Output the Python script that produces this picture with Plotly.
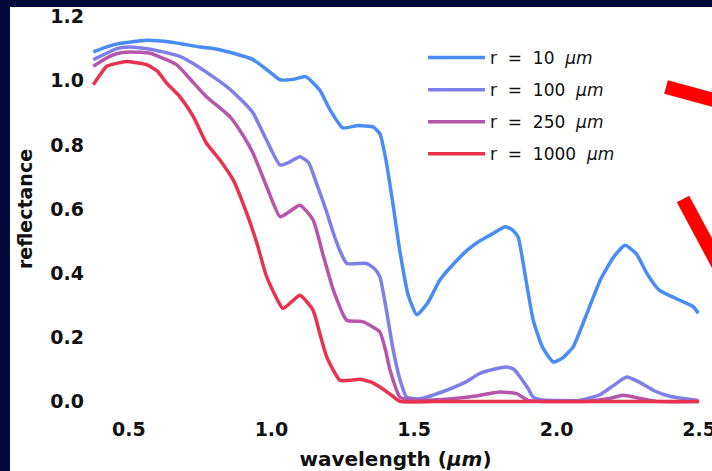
import plotly.graph_objects as go

# ---------------- data ----------------
series_names = ["r\u00a0 =\u00a0 10\u00a0 <i>μm</i>", "r\u00a0 =\u00a0 100\u00a0 <i>μm</i>",
                "r\u00a0 =\u00a0 250\u00a0 <i>μm</i>", "r\u00a0 =\u00a0 1000\u00a0 <i>μm</i>"]
series_colors = ["#4a8cf5", "#7f7fe8", "#b556aa", "#e8324e"]

w_r10 = [0.375, 0.42, 0.46, 0.50, 0.56, 0.65, 0.75, 0.80, 0.87, 0.935, 0.99, 1.03, 1.08, 1.12,
         1.17, 1.205, 1.25, 1.30, 1.356, 1.38, 1.40, 1.427, 1.45, 1.48, 1.51, 1.55, 1.59, 1.64,
         1.685, 1.73, 1.78, 1.819, 1.845, 1.865, 1.883, 1.90, 1.918, 1.95, 1.988, 2.02, 2.058,
         2.10, 2.153, 2.20, 2.24, 2.28, 2.316, 2.36, 2.42, 2.48, 2.497]
refl_r10 = [1.09, 1.105, 1.115, 1.12, 1.126, 1.12, 1.105, 1.10, 1.085, 1.066, 1.03, 1.003, 1.005,
            1.013, 0.97, 0.91, 0.853, 0.86, 0.856, 0.835, 0.76, 0.61, 0.47, 0.33, 0.27, 0.31,
            0.378, 0.43, 0.47, 0.50, 0.525, 0.545, 0.535, 0.513, 0.43, 0.34, 0.253, 0.17, 0.123,
            0.135, 0.17, 0.26, 0.378, 0.45, 0.487, 0.46, 0.40, 0.347, 0.32, 0.295, 0.275]

w_r100 = [0.375, 0.42, 0.457, 0.50, 0.562, 0.62, 0.679, 0.75, 0.843, 0.90, 0.935, 0.98, 1.03,
          1.06, 1.10, 1.13, 1.158, 1.19, 1.217, 1.24, 1.264, 1.30, 1.334, 1.36, 1.38, 1.40, 1.427,
          1.45, 1.474, 1.52, 1.60, 1.68, 1.73, 1.78, 1.825, 1.85, 1.872, 1.90, 1.918, 1.95, 2.00,
          2.08, 2.15, 2.20, 2.246, 2.29, 2.34, 2.40, 2.497]
refl_r100 = [1.066, 1.085, 1.10, 1.105, 1.10, 1.09, 1.076, 1.04, 0.982, 0.935, 0.90, 0.82, 0.737,
             0.745, 0.763, 0.745, 0.68, 0.60, 0.525, 0.47, 0.43, 0.43, 0.43, 0.415, 0.389, 0.30,
             0.16, 0.07, 0.013, 0.008, 0.03, 0.06, 0.087, 0.10, 0.107, 0.10, 0.076, 0.04, 0.013,
             0.004, 0.003, 0.003, 0.02, 0.05, 0.076, 0.06, 0.034, 0.015, 0.003]

w_r250 = [0.375, 0.42, 0.46, 0.503, 0.574, 0.62, 0.667, 0.72, 0.772, 0.854, 0.90, 0.935, 0.983,
          1.03, 1.06, 1.10, 1.146, 1.18, 1.217, 1.264, 1.30, 1.322, 1.35, 1.38, 1.40, 1.416, 1.451,
          1.50, 1.60, 1.685, 1.75, 1.80, 1.86, 1.90, 1.95, 2.10, 2.18, 2.233, 2.29, 2.35, 2.497]
refl_r250 = [1.045, 1.07, 1.085, 1.09, 1.086, 1.07, 1.05, 1.00, 0.95, 0.888, 0.83, 0.775, 0.67,
             0.576, 0.59, 0.612, 0.566, 0.46, 0.347, 0.253, 0.25, 0.248, 0.235, 0.217, 0.16,
             0.097, 0.013, 0.004, 0.006, 0.013, 0.022, 0.029, 0.024, 0.003, 0.0, 0.0, 0.008,
             0.019, 0.01, 0.0, 0.0]

w_r1000 = [0.375, 0.40, 0.422, 0.46, 0.492, 0.562, 0.60, 0.632, 0.679, 0.726, 0.772, 0.819, 0.866,
           0.913, 0.95, 0.983, 1.04, 1.07, 1.10, 1.146, 1.17, 1.194, 1.24, 1.28, 1.31, 1.35, 1.38,
           1.42, 1.451, 1.60, 2.0, 2.5]
refl_r1000 = [0.9875, 1.02, 1.045, 1.055, 1.06, 1.05, 1.03, 0.993, 0.95, 0.888, 0.805, 0.753,
              0.69, 0.587, 0.49, 0.389, 0.29, 0.31, 0.331, 0.284, 0.21, 0.138, 0.066, 0.066,
              0.069, 0.06, 0.045, 0.02, 0.0, 0.0, 0.0, 0.0]

x_ticks = [0.5, 1.0, 1.5, 2.0, 2.5]
y_ticks = [0.0, 0.2, 0.4, 0.6, 0.8, 1.0, 1.2]

# ---------------- layout geometry ----------------
W, H = 712, 471
ML, MR, MT, MB = 89, 10, 7, 60
PW, PH = W - ML - MR, H - MT - MB


def px(x):
    return (x - ML) / PW


def py(y):
    return (H - MB - y) / PH


FONT = "DejaVu Sans"

fig = go.Figure()
for name, color, wv, rv in zip(series_names, series_colors,
                               [w_r10, w_r100, w_r250, w_r1000],
                               [refl_r10, refl_r100, refl_r250, refl_r1000]):
    fig.add_trace(go.Scatter(x=wv, y=rv, mode="lines", name=name, legendgroup=name,
                             line=dict(color=color, width=3.5, shape="spline", smoothing=0.5)))

shapes = [
    # white slide panel
    dict(type="rect", xref="paper", yref="paper", x0=px(10), x1=px(730), y0=py(7), y1=py(490),
         fillcolor="white", line=dict(width=0), layer="below"),
    # red pointer bars (slide decoration)
    dict(type="line", xref="paper", yref="paper", x0=px(666), y0=py(87), x1=px(740), y1=py(107),
         line=dict(color="#ff0000", width=14)),
    dict(type="line", xref="paper", yref="paper", x0=px(683), y0=py(199), x1=px(728), y1=py(283),
         line=dict(color="#ff0000", width=14)),
]

fig.update_layout(
    width=W, height=H,
    margin=dict(l=ML, r=MR, t=MT, b=MB, pad=0, autoexpand=False),
    paper_bgcolor="#04093a",
    plot_bgcolor="rgba(0,0,0,0)",
    shapes=shapes,
    showlegend=True,
    legend=dict(x=px(423), y=py(40), xanchor="left", yanchor="top",
                bgcolor="rgba(0,0,0,0)", font=dict(family=FONT, size=17, color="#111"),
                itemwidth=57, tracegroupgap=7),
    xaxis=dict(range=[0.36, 2.51], tickvals=x_ticks, ticktext=[f"{v:.1f}" for v in x_ticks],
               showgrid=False, zeroline=False, showline=False, ticks="", automargin=False,
               ticklabelstandoff=5, ticklabeloverflow="allow",
               tickfont=dict(family=FONT, size=19, color="#111", weight="bold"),
               title=dict(text="wavelength (<i>μm</i>)", standoff=17,
                          font=dict(family=FONT, size=20, color="#111", weight="bold"))),
    yaxis=dict(range=[-0.03, 1.23], tickvals=y_ticks, ticktext=[f"{v:.1f}" for v in y_ticks],
               showgrid=False, zeroline=False, showline=False, ticks="", automargin=False,
               ticklabelstandoff=4,
               tickfont=dict(family=FONT, size=19, color="#111", weight="bold"),
               title=dict(text="reflectance", standoff=12,
                          font=dict(family=FONT, size=19, color="#111", weight="bold"))),
)

fig.write_html("out.html")
